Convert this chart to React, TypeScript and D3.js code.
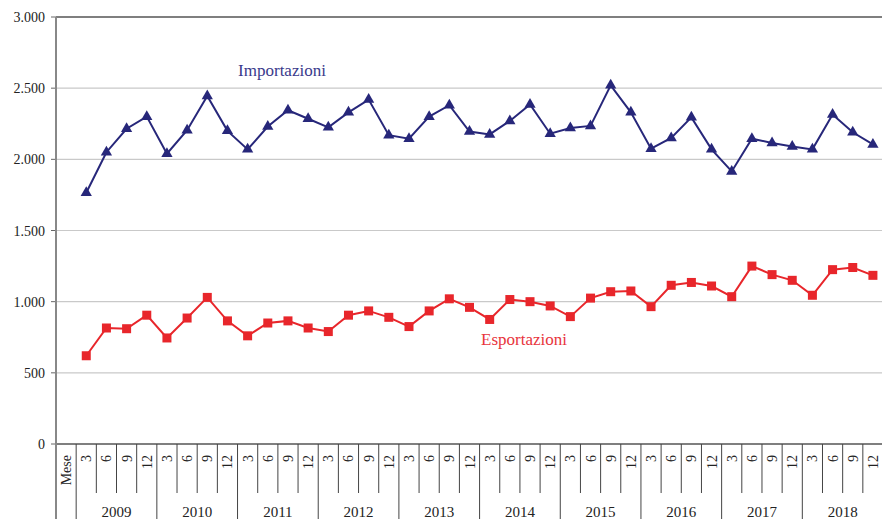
import * as d3 from 'd3';

const W = 882;
const H = 519;

const years = ['2009', '2010', '2011', '2012', '2013', '2014', '2015', '2016', '2017', '2018'];
const months = ['3', '6', '9', '12'];
const yTicks = [0, 500, 1000, 1500, 2000, 2500, 3000];

// valori trimestrali (milioni)
const importazioni = [
  1765, 2050, 2215, 2300, 2040, 2205, 2445, 2200, 2070, 2230,
  2345, 2285, 2225, 2330, 2420, 2170, 2145, 2300, 2380, 2195,
  2175, 2270, 2385, 2180, 2220, 2235, 2520, 2330, 2075, 2150,
  2295, 2070, 1915, 2145, 2115, 2090, 2070, 2315, 2190, 2105,
];
const esportazioni = [
  620, 815, 810, 905, 745, 885, 1030, 865, 760, 850,
  865, 815, 790, 905, 935, 890, 825, 935, 1020, 960,
  875, 1015, 1000, 970, 895, 1025, 1070, 1075, 965, 1115,
  1135, 1110, 1035, 1250, 1190, 1150, 1045, 1225, 1240, 1185,
];

const cats = ['Mese', ...years.flatMap(y => months.map(m => `${y}-${m}`))];

const left = 56;
const right = 883;
const top = 17;
const bottom = 444;

const x = d3.scaleBand<string>().domain(cats).range([left, right]).padding(0);
const y = d3.scaleLinear().domain([0, 3000]).range([bottom, top]);
const fmt = (v: number) => d3.format(',')(v).replace(/,/g, '.');

const IMP = '#27277a';
const EXP = '#e8262b';

export default function App() {
  const keys = cats.slice(1);
  const cx = (k: string) => (x(k) ?? 0) + x.bandwidth() / 2;
  const line = d3.line<number>().x((_, i) => cx(keys[i])).y(d => y(d));
  const tri = d3.symbol(d3.symbolTriangle, 55)();
  const font = '"Liberation Serif", "DejaVu Serif", serif';

  return (
    <svg width={W} height={H} style={{ position: 'absolute', left: 0, top: 0, background: '#fff' }} fontFamily={font}>
      {/* griglia */}
      {yTicks.map(t => (
        <g key={t}>
          <line x1={left} x2={right} y1={y(t)} y2={y(t)}
            stroke={t === 0 || t === 3000 ? '#555' : '#c9c9c9'} strokeWidth={t === 0 || t === 3000 ? 1.3 : 1.2} />
          <line x1={left - 5} x2={left} y1={y(t)} y2={y(t)} stroke="#666" />
          <text x={45} y={y(t) + 5} textAnchor="end" fontSize={14} fill="#222">{fmt(t)}</text>
        </g>
      ))}
      <line x1={left} x2={left} y1={top} y2={H} stroke="#888" strokeWidth={2} />

      {/* tabella asse x */}
      {keys.map((k, i) => (
        <line key={k} x1={(x(k) ?? 0)} x2={(x(k) ?? 0)} y1={bottom} y2={i % 4 === 0 ? H : 493}
          stroke="#444" strokeWidth={1} />
      ))}
      {keys.map(k => (
        <text key={k} transform={`translate(${cx(k) + 5},455) rotate(-90)`} textAnchor="end" fontSize={14} fill="#222">
          {k.split('-')[1]}
        </text>
      ))}
      <text transform={`translate(${cx('Mese') + 5},455) rotate(-90)`} textAnchor="end" fontSize={14} fill="#222">Mese</text>
      {years.map(yr => {
        const x0 = x(`${yr}-3`) ?? 0;
        const x1 = (x(`${yr}-12`) ?? 0) + x.bandwidth();
        return (
          <text key={yr} x={(x0 + x1) / 2} y={517} textAnchor="middle" fontSize={15} fill="#222">{yr}</text>
        );
      })}

      {/* serie */}
      <path d={line(importazioni) ?? ''} fill="none" stroke={IMP} strokeWidth={2} />
      {importazioni.map((v, i) => (
        <path key={i} d={tri ?? ''} transform={`translate(${cx(keys[i])},${y(v)})`} fill={IMP} />
      ))}
      <path d={line(esportazioni) ?? ''} fill="none" stroke={EXP} strokeWidth={2} />
      {esportazioni.map((v, i) => (
        <rect key={i} x={cx(keys[i]) - 4.5} y={y(v) - 4.5} width={9} height={9} fill={EXP} />
      ))}

      <text x={282} y={76} textAnchor="middle" fontSize={17} fill="#3a3a8c">Importazioni</text>
      <text x={524} y={345} textAnchor="middle" fontSize={17} fill="#e8343c">Esportazioni</text>
    </svg>
  );
}
